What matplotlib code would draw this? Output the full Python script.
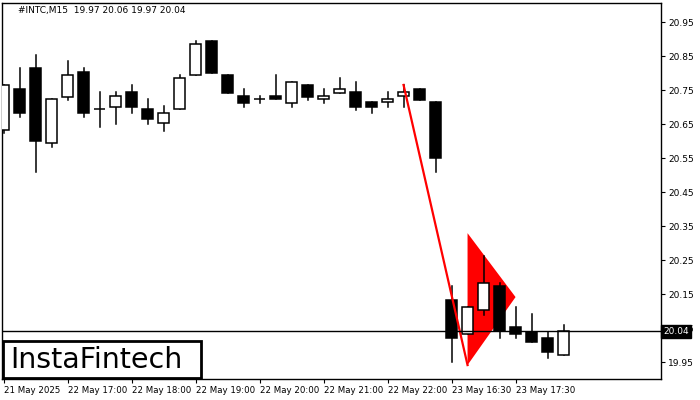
import matplotlib.pyplot as plt
from matplotlib.patches import Rectangle, Polygon

# OHLC (15 min candles)
opens = [20.632, 20.752, 20.814, 20.593, 20.730, 20.803, 20.693, 20.701, 20.744, 20.693,
         20.652, 20.693, 20.793, 20.894, 20.794, 20.732, 20.723, 20.732, 20.713, 20.764,
         20.723, 20.742, 20.743, 20.714, 20.714, 20.732, 20.753, 20.714, 20.132, 20.031,
         20.103, 20.174, 20.052, 20.039, 20.020, 19.97]
highs = [20.764, 20.814, 20.853, 20.723, 20.835, 20.814, 20.744, 20.744, 20.765, 20.724,
         20.703, 20.794, 20.894, 20.894, 20.794, 20.753, 20.732, 20.794, 20.773, 20.764,
         20.753, 20.784, 20.773, 20.714, 20.743, 20.765, 20.753, 20.714, 20.174, 20.111,
         20.262, 20.181, 20.111, 20.090, 20.039, 20.06]
lows = [20.624, 20.671, 20.510, 20.581, 20.721, 20.671, 20.642, 20.650, 20.681, 20.650,
        20.630, 20.693, 20.793, 20.801, 20.742, 20.701, 20.713, 20.723, 20.701, 20.721,
        20.713, 20.742, 20.691, 20.681, 20.701, 20.701, 20.721, 20.510, 19.951, 20.031,
        20.088, 20.020, 20.020, 20.010, 19.961, 19.97]
closes = [20.764, 20.681, 20.601, 20.723, 20.793, 20.681, 20.693, 20.731, 20.701, 20.664,
          20.681, 20.784, 20.884, 20.801, 20.742, 20.713, 20.723, 20.723, 20.773, 20.730,
          20.732, 20.752, 20.701, 20.701, 20.723, 20.743, 20.721, 20.551, 20.020, 20.111,
          20.181, 20.041, 20.031, 20.010, 19.980, 20.04]

tick_pos = [0, 4, 8, 12, 16, 20, 24, 28, 32]
tick_labels = ['21 May 2025', '22 May 17:00', '22 May 18:00', '22 May 19:00', '22 May 20:00',
               '22 May 21:00', '22 May 22:00', '23 May 16:30', '23 May 17:30']
price_ticks = [19.95, 20.05, 20.15, 20.25, 20.35, 20.45, 20.55, 20.65, 20.75, 20.85, 20.95]

# bearish pennant: pole and flag
pole_x = [25, 29]
pole_y = [20.765, 19.941]
flag_x = [29, 29, 32]
flag_y = [19.941, 20.329, 20.141]

last_price = 20.04

fig = plt.figure(figsize=(7, 4), dpi=100)
ax = fig.add_axes([2 / 700, 21 / 400, 659 / 700, 376 / 400])

ax.add_patch(Polygon(list(zip(flag_x, flag_y)), closed=True, color='red', lw=0, zorder=1))

w = 0.66
for i in range(len(opens)):
    o, h, l, c = opens[i], highs[i], lows[i], closes[i]
    ax.plot([i, i], [l, h], color='black', lw=1.1, zorder=2)
    fc = 'white' if c >= o else 'black'
    bottom = min(o, c)
    height = max(abs(c - o), 0.0005)
    ax.add_patch(Rectangle((i - w / 2, bottom), w, height, facecolor=fc,
                           edgecolor='black', lw=1.1, zorder=3))

ax.plot(pole_x, pole_y, color='red', lw=1.6, zorder=4)
ax.axhline(last_price, color='black', lw=1, zorder=5)

ax.set_xlim(-0.094, 41.09)
ax.set_ylim(19.90, 21.006)

ax.yaxis.tick_right()
ax.set_yticks(price_ticks)
ax.set_yticklabels(['%.2f' % p for p in price_ticks], fontsize=6.5)
ax.set_xticks(tick_pos)
ax.set_xticklabels(tick_labels, fontsize=6.2, ha='left')
ax.tick_params(axis='both', length=3, width=0.8, pad=2)
for sp in ax.spines.values():
    sp.set_linewidth(1)

# current price label
ax.text(1.003, last_price, '%.2f' % last_price, transform=ax.get_yaxis_transform(),
        fontsize=6.5, color='white', va='center', ha='left',
        bbox=dict(boxstyle='square,pad=0.25', fc='black', ec='black'), clip_on=False, zorder=10)

fig.text(18 / 700, 1 - 10 / 400, '#INTC,M15  19.97 20.06 19.97 20.04', fontsize=6.5, va='center')

# logo box
fig.patches.append(Rectangle((3 / 700, 22 / 400), 198 / 700, 37 / 400, transform=fig.transFigure,
                             facecolor='white', edgecolor='black', lw=2, zorder=20))
fig.text(10 / 700, 40 / 400, 'InstaFintech', fontsize=20.5, va='center', ha='left', zorder=21)

fig.savefig('out.png', dpi=100)
